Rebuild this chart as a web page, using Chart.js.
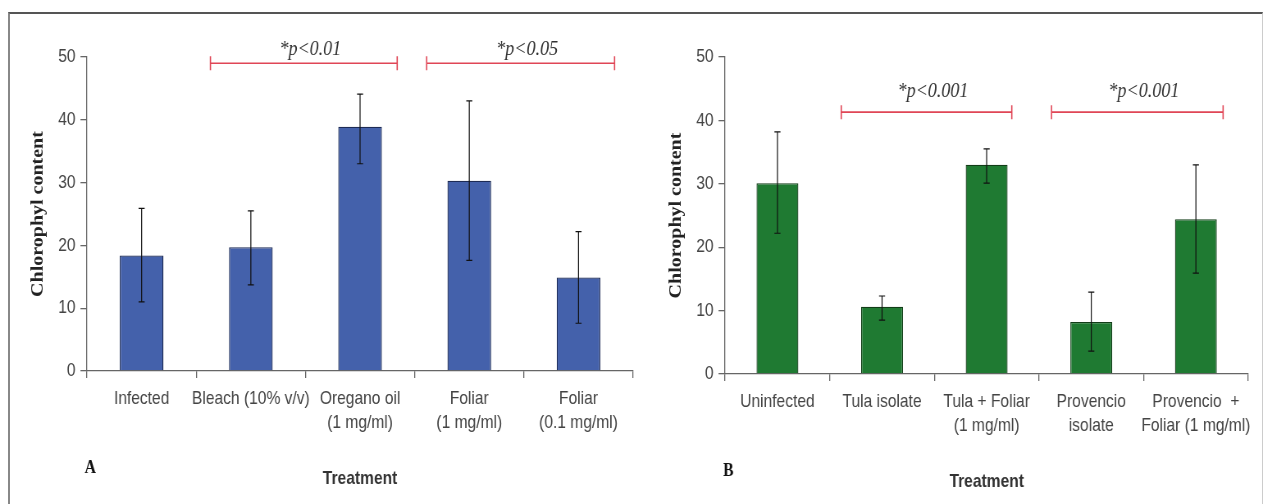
<!DOCTYPE html>
<html>
<head>
<meta charset="utf-8">
<script src="https://cdn.jsdelivr.net/npm/chart.js@4.4.0/dist/chart.umd.min.js"></script>
<style>
  body { margin: 0; background: #fff; }
  #wrap { position: relative; width: 1263px; height: 504px; overflow: hidden; }
  #frame { position: absolute; left: 8px; top: 12px; width: 1252px; height: 520px;
           border-top: 2px solid #555; border-left: 2px solid #888; border-right: 1px solid #ccc; }
  canvas { position: absolute; left: 0; top: 0; }
</style>
</head>
<body>
<div id="wrap">
  <div id="frame"></div>
  <canvas id="chartA" width="1540" height="504" style="width:1263px;height:504px"></canvas>
  <canvas id="chartB" width="1540" height="504" style="width:1263px;height:504px"></canvas>
</div>
<script>
// panel A
const labelsA = ['Infected', 'Bleach (10% v/v)', ['Oregano oil', '(1 mg/ml)'], ['Foliar', '(1 mg/ml)'], ['Foliar', '(0.1 mg/ml)']];
const valuesA = [18.4, 19.7, 38.9, 30.3, 14.9];
const highA = [25.9, 25.5, 44.1, 43.0, 22.2];
const lowA = [11.0, 13.7, 33.0, 17.6, 7.6];
const bracketsA = [
    { from: 0.63, to: 2.34, at: 49.0, textAt: 51.3, text: '*p<0.01' },
    { from: 2.61, to: 4.33, at: 49.0, textAt: 51.3, text: '*p<0.05' }
];

// panel B
const labelsB = ['Uninfected', 'Tula isolate', ['Tula + Foliar', '(1 mg/ml)'], ['Provencio', 'isolate'], ['Provencio  +', 'Foliar (1 mg/ml)']];
const valuesB = [30.1, 10.6, 33.0, 8.2, 24.4];
const highB = [38.2, 12.3, 35.5, 12.9, 33.0];
const lowB = [22.2, 8.5, 30.1, 3.6, 15.9];
const bracketsB = [
    { from: 0.61, to: 2.24, at: 41.3, textAt: 44.6, text: '*p<0.001' },
    { from: 2.62, to: 4.26, at: 41.3, textAt: 44.6, text: '*p<0.001' }
];

const yTicks = [0, 10, 20, 30, 40, 50];

// the reference text looks squeezed sideways, so the canvas is drawn wider and shrunk by css
const K = 0.82;
const CW = 1540;
const YW = 75;   // y axis box width (canvas px)
const XH = 120;  // x axis box height

// error bars, significance brackets and the panel letter
const extras = {
    id: 'extras',
    afterDraw(chart, args, opts) {
        const ctx = chart.ctx;
        const x = chart.scales.x, y = chart.scales.y;
        ctx.save();

        ctx.strokeStyle = '#111';
        ctx.lineWidth = 1.2;
        opts.high.forEach((hi, i) => {
            const cx = x.getPixelForValue(i);
            const top = y.getPixelForValue(hi);
            const bot = y.getPixelForValue(opts.low[i]);
            ctx.beginPath();
            ctx.moveTo(cx, top); ctx.lineTo(cx, bot);
            ctx.moveTo(cx - 3.7, top); ctx.lineTo(cx + 3.7, top);
            ctx.moveTo(cx - 3.7, bot); ctx.lineTo(cx + 3.7, bot);
            ctx.stroke();
        });

        opts.brackets.forEach(b => {
            const x1 = x.getPixelForValue(b.from);
            const x2 = x.getPixelForValue(b.to);
            const yy = y.getPixelForValue(b.at);
            ctx.strokeStyle = '#e04656';
            ctx.lineWidth = 1.6;
            ctx.beginPath();
            ctx.moveTo(x1, yy); ctx.lineTo(x2, yy);
            ctx.moveTo(x1, yy - 7); ctx.lineTo(x1, yy + 7);
            ctx.moveTo(x2, yy - 7); ctx.lineTo(x2, yy + 7);
            ctx.stroke();
            ctx.fillStyle = '#333';
            ctx.font = 'italic 22px "Liberation Serif"';
            ctx.textAlign = 'center';
            ctx.textBaseline = 'middle';
            ctx.fillText(b.text, (x1 + x2) / 2 + 8, y.getPixelForValue(b.textAt));
        });

        ctx.fillStyle = '#111';
        ctx.font = 'bold 19px "Liberation Serif"';
        ctx.textAlign = 'center';
        ctx.textBaseline = 'middle';
        ctx.fillText(opts.letter, chart.chartArea.left + 4, chart.chartArea.bottom + 97);
        ctx.restore();
    }
};

function panel(id, labels, values, high, low, brackets, letter, fill, edge, area) {
    return new Chart(document.getElementById(id), {
        type: 'bar',
        data: {
            labels: labels,
            datasets: [{
                data: values,
                backgroundColor: fill,
                borderColor: edge,
                borderWidth: 1.3,
                barPercentage: 0.4,
                categoryPercentage: 1
            }]
        },
        options: {
            responsive: false,
            animation: false,
            layout: {
                padding: {
                    left: area.left / K - YW,
                    right: CW - area.right / K,
                    top: area.top,
                    bottom: 504 - area.bottom - XH
                }
            },
            plugins: {
                legend: { display: false },
                tooltip: { enabled: false },
                extras: { high: high, low: low, brackets: brackets, letter: letter }
            },
            scales: {
                x: {
                    border: { color: '#666', width: 1.3 },
                    grid: { drawOnChartArea: false, tickLength: 7, color: '#666', lineWidth: 1.3 },
                    ticks: {
                        color: '#444',
                        font: { family: '"Liberation Sans", Arial', size: 19, lineHeight: '24px' },
                        padding: 9,
                        maxRotation: 0,
                        autoSkip: false
                    },
                    title: {
                        display: true,
                        text: 'Treatment',
                        color: '#333',
                        font: { family: '"Liberation Sans", Arial', size: 19, weight: 'bold' },
                        padding: { top: 0, bottom: 1 }
                    },
                    afterFit: s => { s.height = XH; }
                },
                y: {
                    min: 0,
                    max: 50,
                    afterBuildTicks: s => { s.ticks = yTicks.map(v => ({ value: v })); },
                    border: { color: '#666', width: 1.3 },
                    grid: { drawOnChartArea: false, tickLength: 8, color: '#666', lineWidth: 1.3 },
                    ticks: {
                        color: '#444',
                        font: { family: '"Liberation Sans", Arial', size: 19 },
                        padding: 6
                    },
                    title: {
                        display: true,
                        text: 'Chlorophyl content',
                        color: '#222',
                        font: { family: '"Liberation Serif", "Times New Roman"', size: 20, weight: 'bold' },
                        padding: { top: 4, bottom: 0 }
                    },
                    afterFit: s => { s.width = YW; }
                }
            }
        },
        plugins: [extras]
    });
}

panel('chartA', labelsA, valuesA, highA, lowA, bracketsA, 'A', '#4461ab', '#1d2b55',
      { left: 87, right: 633, top: 57, bottom: 371 });
panel('chartB', labelsB, valuesB, highB, lowB, bracketsB, 'B', '#1f7a32', '#123d18',
      { left: 725, right: 1248, top: 57, bottom: 374 });
</script>
</body>
</html>
